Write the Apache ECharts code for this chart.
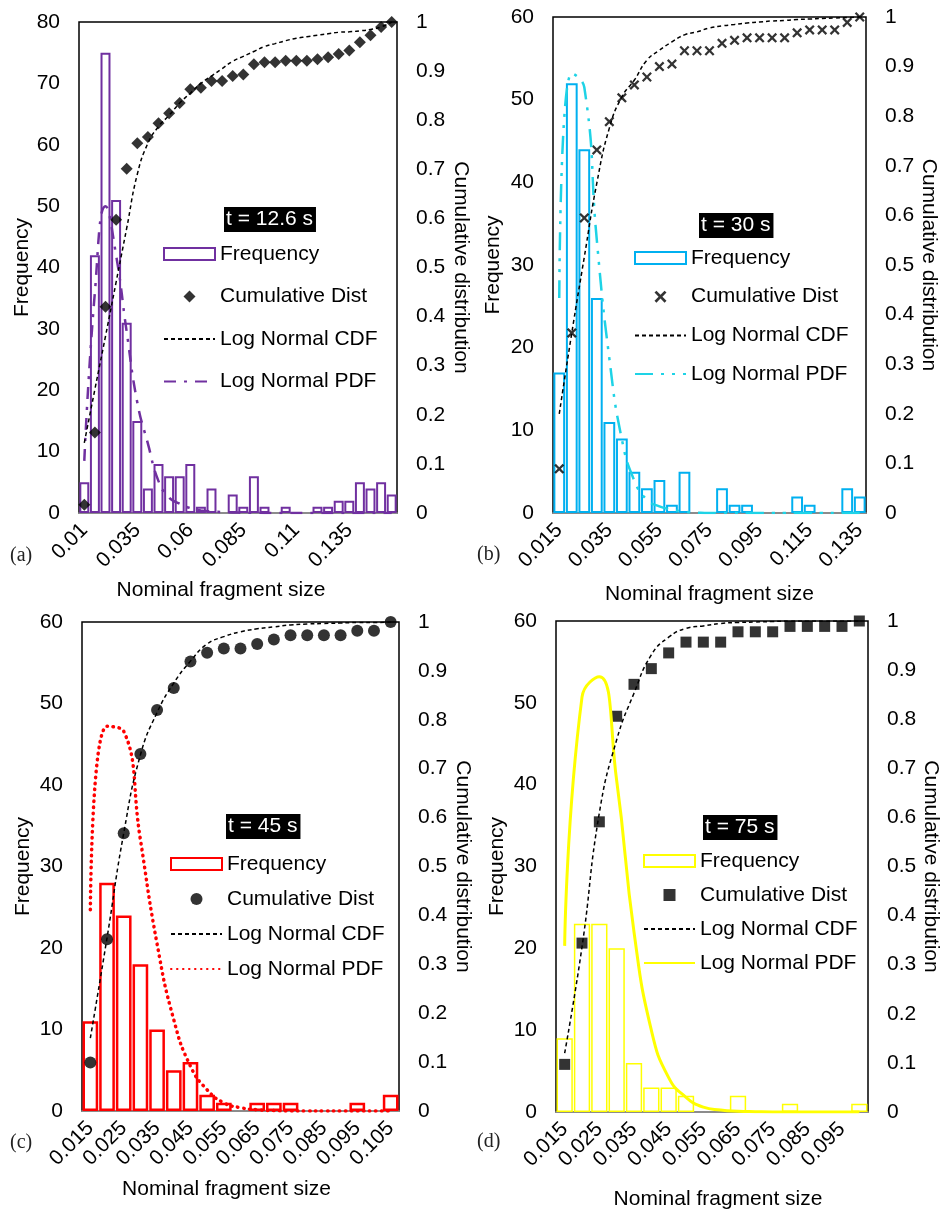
<!DOCTYPE html>
<html>
<head>
<meta charset="utf-8">
<script src="https://cdn.jsdelivr.net/npm/echarts@6/dist/echarts.min.js"></script>
<style>
html, body { margin: 0; padding: 0; background: #fff; }
#main { width: 940px; height: 1209px; }
</style>
</head>
<body>
<div id="main"></div>
<script>
// bin labels (nominal fragment size)
var binsA = ['0.01','0.015','0.02','0.025','0.03','0.035','0.04','0.045','0.05','0.055','0.06','0.065','0.07','0.075','0.08','0.085','0.09','0.095','0.1','0.105','0.11','0.115','0.12','0.125','0.13','0.135','0.14','0.145','0.15','0.155'];
var binsB = ['0.015','0.02','0.025','0.03','0.035','0.04','0.045','0.05','0.055','0.06','0.065','0.07','0.075','0.08','0.085','0.09','0.095','0.1','0.105','0.11','0.115','0.12','0.125','0.13','0.135'];
var binsC = ['0.015','0.02','0.025','0.03','0.035','0.04','0.045','0.05','0.055','0.06','0.065','0.07','0.075','0.08','0.085','0.09','0.095','0.1','0.105'];
var binsD = ['0.015','0.02','0.025','0.03','0.035','0.04','0.045','0.05','0.055','0.06','0.065','0.07','0.075','0.08','0.085','0.09','0.095','0.1'];

// (a) t = 12.6 s
var freqA = [5,42,75,51,31,15,4,8,6,6,8,1,4,0,3,1,6,1,0,1,0,0,1,1,2,2,5,4,5,3];
var cumA = [0.017,0.164,0.420,0.597,0.701,0.753,0.766,0.794,0.814,0.835,0.863,0.866,0.880,0.880,0.890,0.893,0.914,0.918,0.918,0.921,0.921,0.921,0.924,0.928,0.935,0.942,0.959,0.973,0.990,1.000];
var cdfA = [0.143,0.252,0.36,0.47,0.58,0.69,0.753,0.787,0.81,0.835,0.855,0.875,0.89,0.905,0.92,0.93,0.94,0.95,0.956,0.962,0.967,0.97,0.973,0.976,0.979,0.98,0.982,0.985,0.99,1.0];
var pdfA = [8.5,36,50,42,29.5,18,11.3,5.2,2.5,1.5,0.8,0.4,0.25,0.15,0.1,0.05,0.03,0.02,0.01,0,0,0,0,0,0,0,0,0,0,0];

// (b) t = 30 s
var freqB = [17,52,44,26,11,9,5,3,4,1,5,0,0,3,1,1,0,0,0,2,1,0,0,3,2];
var cumB = [0.089,0.363,0.595,0.732,0.789,0.837,0.863,0.879,0.900,0.905,0.932,0.932,0.932,0.947,0.953,0.958,0.958,0.958,0.958,0.968,0.974,0.974,0.974,0.989,1.000];
var cdfB = [0.2,0.363,0.516,0.665,0.776,0.839,0.873,0.913,0.933,0.95,0.964,0.97,0.978,0.982,0.985,0.988,0.99,0.992,0.993,0.995,0.996,0.997,0.998,0.999,1.0];
var pdfB = [26,53.2,51.5,33,18.7,8.9,3.9,1.6,0.8,0.4,0.15,0.05,0,0,0,0,0,0,0,0,0,0,0,0,0];

// (c) t = 45 s
var freqC = [11,28,24,18,10,5,6,2,1,0,1,1,1,0,0,0,1,0,2];
var cumC = [0.099,0.351,0.568,0.730,0.820,0.865,0.919,0.937,0.946,0.946,0.955,0.964,0.973,0.973,0.973,0.973,0.982,0.982,1.000];
var cdfC = [0.149,0.354,0.568,0.728,0.815,0.875,0.92,0.955,0.97,0.98,0.986,0.99,0.994,0.996,0.997,0.998,0.999,0.999,1.0];
var pdfC = [24.7,47.2,46.6,33.3,20.5,11.2,5.5,2.6,1.0,0.4,0.15,0.05,0,0,0,0,0,0,0];

// (d) t = 75 s
var freqD = [9,23,23,20,6,3,3,2,0,0,2,0,0,1,0,0,0,1];
var cumD = [0.097,0.344,0.591,0.806,0.871,0.903,0.935,0.957,0.957,0.957,0.978,0.978,0.978,0.989,0.989,0.989,0.989,1.000];
var cdfD = [0.12,0.336,0.609,0.758,0.853,0.931,0.967,0.985,0.99,0.995,0.997,0.998,0.999,1,1,1,1,1];
var pdfD = [20.3,50.7,53.2,40.5,22,10,4.2,1.8,0.6,0.25,0.1,0.04,0,0,0,0,0,0];

var FONT = '"Liberation Sans", Arial, sans-serif';
// marker shapes as paths so the legend keeps them square
var XMARK = 'path://M0,1.6 L1.6,0 L5,3.4 L8.4,0 L10,1.6 L6.6,5 L10,8.4 L8.4,10 L5,6.6 L1.6,10 L0,8.4 L3.4,5 Z';
var DIAMOND = 'path://M5,0 L10,5 L5,10 L0,5 Z';
var SQUARE = 'path://M0,0 L10,0 L10,10 L0,10 Z';

var panels = [
    {key: 'a', label: 't = 12.6 s', bins: binsA, freq: freqA, cum: cumA, cdf: cdfA, pdf: pdfA,
     left: 79, top: 22, w: 318, h: 491, yMax: 80, every: 4,
     color: '#7030A0', pdfColor: '#7030A0', barBorder: 2, pdfWidth: 2.5, pdfType: [12, 8, 3, 8], pdfCap: 'butt',
     symbol: DIAMOND, symbolSize: 12,
     lGap: 46, rGap: 53, xGap: 67, xPad: [0, 34, 0, 0],
     tag: [224, 207], legend: [163, 243, 20.5], letter: [10, 546]},
    {key: 'b', label: 't = 30 s', bins: binsB, freq: freqB, cum: cumB, cdf: cdfB, pdf: pdfB,
     left: 553, top: 17, w: 313, h: 496, yMax: 60, every: 3,
     color: '#00B0F0', pdfColor: '#1ED3E6', barBorder: 2, pdfWidth: 2.5, pdfType: [18, 8, 3, 8, 3, 8], pdfCap: 'butt',
     symbol: XMARK, symbolSize: 10,
     lGap: 49, rGap: 51, xGap: 71, xPad: [0, 0, 0, 0],
     tag: [699, 213], legend: [634, 247, 16.7], letter: [477, 545]},
    {key: 'c', label: 't = 45 s', bins: binsC, freq: freqC, cum: cumC, cdf: cdfC, pdf: pdfC,
     left: 82, top: 622, w: 317, h: 489, yMax: 60, every: 1,
     color: '#FF0000', pdfColor: '#FF0000', barBorder: 2.5, pdfWidth: 3.5, pdfType: [0.5, 5.5], pdfCap: 'round',
     symbol: 'circle', symbolSize: 12,
     lGap: 48, rGap: 53, xGap: 68, xPad: [0, 28, 0, 0],
     tag: [226, 814], legend: [170, 853, 13], letter: [10, 1133]},
    {key: 'd', label: 't = 75 s', bins: binsD, freq: freqD, cum: cumD, cdf: cdfD, pdf: pdfD,
     left: 556, top: 621, w: 312, h: 491, yMax: 60, every: 1,
     color: '#FFFF00', pdfColor: '#FFFF00', barBorder: 1.5, pdfWidth: 3, pdfType: 'solid', pdfCap: 'butt',
     symbol: SQUARE, symbolSize: 11,
     lGap: 48, rGap: 49, xGap: 77, xPad: [0, 0, 0, 12],
     tag: [703, 815], legend: [643, 850, 12], letter: [477, 1132]}
];

var option = {
    backgroundColor: '#fff',
    animation: false,
    title: [], grid: [], xAxis: [], yAxis: [], legend: [], series: [], graphic: []
};

var txt = {color: '#000', fontSize: 21, fontFamily: FONT};

panels.forEach(function (p, i) {
    var nm = function (s) { return s + '#' + p.key; };
    option.grid.push({
        left: p.left, top: p.top, width: p.w, height: p.h,
        show: true, borderColor: '#000', borderWidth: 1.5,
        containLabel: false, outerBoundsMode: 'none'
    });
    option.xAxis.push({
        type: 'category', gridIndex: i, data: p.bins, boundaryGap: true,
        axisTick: {show: false},
        axisLine: {show: true, lineStyle: {color: '#a6a6a6', width: 1.5}},
        axisLabel: Object.assign({interval: p.every, rotate: 45, margin: 14}, txt),
        name: 'Nominal fragment size', nameLocation: 'middle', nameGap: p.xGap,
        nameTextStyle: Object.assign({padding: p.xPad}, txt)
    });
    option.yAxis.push({
        type: 'value', gridIndex: i, min: 0, max: p.yMax, interval: 10,
        axisLine: {show: false}, axisTick: {show: false}, splitLine: {show: false},
        axisLabel: Object.assign({margin: 19}, txt),
        name: 'Frequency', nameLocation: 'middle', nameRotate: 90, nameGap: p.lGap,
        nameTextStyle: txt
    });
    option.yAxis.push({
        type: 'value', gridIndex: i, position: 'right', min: 0, max: 1, interval: 0.1,
        axisLine: {show: false}, axisTick: {show: false}, splitLine: {show: false},
        axisLabel: Object.assign({margin: 19}, txt),
        name: 'Cumulative distribution', nameLocation: 'middle', nameRotate: -90, nameGap: p.rGap,
        nameTextStyle: txt
    });
    option.series.push({
        name: nm('Frequency'), type: 'bar', xAxisIndex: i, yAxisIndex: 2 * i,
        data: p.freq.map(function (v) { return v === 0 ? null : v; }),
        barCategoryGap: '6%',
        itemStyle: {color: '#fff', borderColor: p.color, borderWidth: p.barBorder}
    });
    option.series.push({
        name: nm('Log Normal PDF'), type: 'line', xAxisIndex: i, yAxisIndex: 2 * i,
        data: p.pdf, smooth: true, symbol: 'none', showSymbol: false,
        itemStyle: {color: p.pdfColor},
        lineStyle: {color: p.pdfColor, width: p.pdfWidth, type: p.pdfType, cap: p.pdfCap}
    });
    option.series.push({
        name: nm('Log Normal CDF'), type: 'line', xAxisIndex: i, yAxisIndex: 2 * i + 1,
        data: p.cdf, smooth: true, symbol: 'none', showSymbol: false,
        itemStyle: {color: '#000'},
        lineStyle: {color: '#000', width: 1.5, type: [4, 3]}
    });
    option.series.push({
        name: nm('Cumulative Dist'), type: 'scatter', xAxisIndex: i, yAxisIndex: 2 * i + 1,
        data: p.cum, symbol: p.symbol, symbolSize: p.symbolSize,
        itemStyle: {color: '#000'}
    });
    option.legend.push({
        orient: 'vertical', left: p.legend[0], top: p.legend[1], itemGap: p.legend[2],
        padding: 0, itemWidth: 51, itemHeight: 12, selectedMode: false, symbolKeepAspect: true,
        formatter: function (n) { return n.split('#')[0]; },
        textStyle: Object.assign({lineHeight: 22}, txt),
        data: [
            {name: nm('Frequency'), icon: 'rect'},
            {name: nm('Cumulative Dist'), icon: p.symbol},
            {name: nm('Log Normal CDF'), itemStyle: {opacity: 0}},
            {name: nm('Log Normal PDF'), itemStyle: {opacity: 0}}
        ]
    });
    option.title.push({
        text: p.label, left: p.tag[0], top: p.tag[1],
        backgroundColor: '#000', padding: [1, 3, 1, 2],
        textStyle: {color: '#fff', fontSize: 21, fontWeight: 'normal', fontFamily: FONT, lineHeight: 23}
    });
    option.graphic.push({
        type: 'text', left: p.letter[0], top: p.letter[1],
        style: {text: '(' + p.key + ')', fontSize: 20, fontFamily: '"Liberation Serif", "Times New Roman", serif', fill: '#222'}
    });
});

var chart = echarts.init(document.getElementById('main'), null, {renderer: 'canvas'});
chart.setOption(option);
</script>
</body>
</html>
